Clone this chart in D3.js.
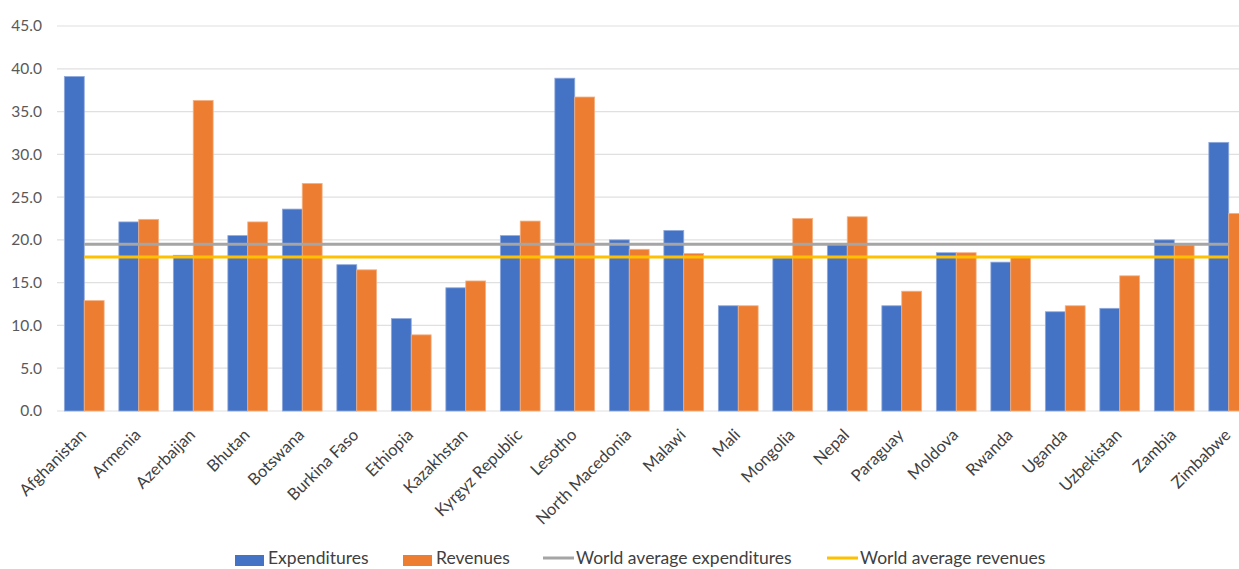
<!DOCTYPE html>
<html>
<head>
<meta charset="utf-8">
<script src="https://cdn.jsdelivr.net/npm/d3@7"></script>
<style>
  body { margin: 0; background: #fff; }
  svg { display: block; font-family: Lato, "Open Sans", sans-serif; }
</style>
</head>
<body>
<svg id="chart" width="1239" height="569"></svg>
<script>
// data
const countries = ["Afghanistan", "Armenia", "Azerbaijan", "Bhutan", "Botswana", "Burkina Faso",
  "Ethiopia", "Kazakhstan", "Kyrgyz Republic", "Lesotho", "North Macedonia", "Malawi", "Mali",
  "Mongolia", "Nepal", "Paraguay", "Moldova", "Rwanda", "Uganda", "Uzbekistan", "Zambia", "Zimbabwe"];
const expenditures = [39.1, 22.1, 18.2, 20.5, 23.6, 17.1, 10.8, 14.4, 20.5, 38.9, 20.0, 21.1, 12.3,
  17.9, 19.5, 12.3, 18.5, 17.4, 11.6, 12.0, 20.0, 31.4];
const revenues = [12.9, 22.4, 36.3, 22.1, 26.6, 16.5, 8.9, 15.2, 22.2, 36.7, 18.9, 18.4, 12.3,
  22.5, 22.7, 14.0, 18.5, 18.0, 12.3, 15.8, 19.4, 23.1];
const worldAvgExpenditures = 19.5;
const worldAvgRevenues = 18.0;
const yTicks = [0, 5, 10, 15, 20, 25, 30, 35, 40, 45];

const colors = { exp: "#4472C4", rev: "#ED7D31", avgExp: "#A5A5A5", avgRev: "#FFC000" };

const svg = d3.select("#chart");

// plot area runs past the right edge, like the cropped original
const x = d3.scaleBand().domain(countries).range([57, 57 + 22 * 54.5]).paddingInner(0.27).paddingOuter(0.135);
const xSub = d3.scaleBand().domain(["exp", "rev"]).range([0, x.bandwidth()]);
const y = d3.scaleLinear().domain([0, 45]).range([411, 26]);

// gridlines
svg.append("g")
  .selectAll("line")
  .data(yTicks)
  .join("line")
  .attr("x1", 57).attr("x2", 1239)
  .attr("y1", d => y(d)).attr("y2", d => y(d))
  .attr("stroke", "#e0e0e0").attr("stroke-width", 1.2);

// y axis labels
const yAxis = d3.axisLeft(y).tickValues(yTicks).tickFormat(d3.format(".1f")).tickSize(0).tickPadding(0);
svg.append("g")
  .attr("transform", "translate(42,0)")
  .call(yAxis)
  .call(g => g.select(".domain").remove())
  .selectAll("text")
  .attr("font-size", 15.5).attr("fill", "#595959").attr("font-family", "Lato, sans-serif");

// bars
const groups = svg.append("g")
  .selectAll("g")
  .data(countries.map((c, i) => ({ c, exp: expenditures[i], rev: revenues[i] })))
  .join("g")
  .attr("transform", d => `translate(${x(d.c)},0)`);

groups.selectAll("rect")
  .data(d => [{ k: "exp", v: d.exp }, { k: "rev", v: d.rev }])
  .join("rect")
  .attr("x", d => xSub(d.k))
  .attr("width", xSub.bandwidth())
  .attr("y", d => y(d.v))
  .attr("height", d => y(0) - y(d.v))
  .attr("fill", d => colors[d.k])
  .attr("stroke", d => d.k === "exp" ? "#8faadc" : "#f4b183")
  .attr("stroke-width", 0.8);

// world average lines
const cx = c => x(c) + x.bandwidth() / 2;
const first = countries[0], last = countries[countries.length - 1];
[[worldAvgExpenditures, colors.avgExp], [worldAvgRevenues, colors.avgRev]].forEach(([v, col]) => {
  svg.append("line")
    .attr("x1", cx(first)).attr("x2", cx(last))
    .attr("y1", y(v)).attr("y2", y(v))
    .attr("stroke", col).attr("stroke-width", 3);
});

// x labels rotated
svg.append("g")
  .selectAll("text")
  .data(countries)
  .join("text")
  .attr("transform", d => `translate(${cx(d) + 3},${436}) rotate(-45)`)
  .attr("text-anchor", "end")
  .attr("font-size", 16.5)
  .attr("fill", "#404040")
  .text(d => d);

// legend (kept just inside the bottom edge)
const legend = [
  { label: "Expenditures", color: colors.exp, type: "rect", x: 235 },
  { label: "Revenues", color: colors.rev, type: "rect", x: 403 },
  { label: "World average expenditures", color: colors.avgExp, type: "line", x: 543 },
  { label: "World average revenues", color: colors.avgRev, type: "line", x: 827 }
];
const lg = svg.append("g").selectAll("g").data(legend).join("g")
  .attr("transform", d => `translate(${d.x},558)`);
lg.filter(d => d.type === "rect").append("rect")
  .attr("x", 0).attr("y", -3).attr("width", 29).attr("height", 11)
  .attr("fill", d => d.color);
lg.filter(d => d.type === "line").append("line")
  .attr("x1", 0).attr("x2", 31).attr("y1", 0).attr("y2", 0)
  .attr("stroke", d => d.color).attr("stroke-width", 3);
lg.append("text")
  .attr("x", 33)
  .attr("y", 6)
  .attr("font-size", 17.5)
  .attr("fill", "#404040")
  .text(d => d.label);
</script>
</body>
</html>
